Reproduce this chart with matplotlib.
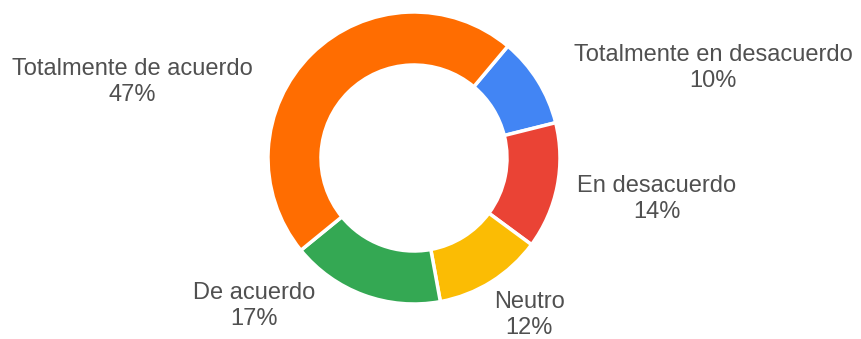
import matplotlib.pyplot as plt

labels = ['Totalmente en desacuerdo', 'En desacuerdo', 'Neutro', 'De acuerdo', 'Totalmente de acuerdo']
values = [10, 14, 12, 17, 47]
colors = ['#4285F4', '#EA4335', '#FBBC04', '#34A853', '#FF6D01']

# label block centres in pixel coords (x, y from top)
label_pos = [(713, 68), (657, 199), (529, 315), (254, 306), (132, 82)]

W, H = 861, 339
fig = plt.figure(figsize=(W / 100, H / 100), dpi=100)
ax = fig.add_axes([0, 0, 1, 1])

ax.pie(values, colors=colors, startangle=50, counterclock=False,
       center=(414, H - 158), radius=146, frame=True,
       wedgeprops=dict(width=53, edgecolor='white', linewidth=2.5))
ax.set_xlim(0, W)
ax.set_ylim(0, H)
ax.set_aspect('auto')
ax.axis('off')

for lab, v, (x, y) in zip(labels, values, label_pos):
    ax.text(x, H - y, f'{lab}\n{v}%', ha='center', va='center',
            multialignment='center', fontsize=17, color='#505050',
            family='Liberation Sans', linespacing=1.25)

fig.savefig('out.png', dpi=100)
